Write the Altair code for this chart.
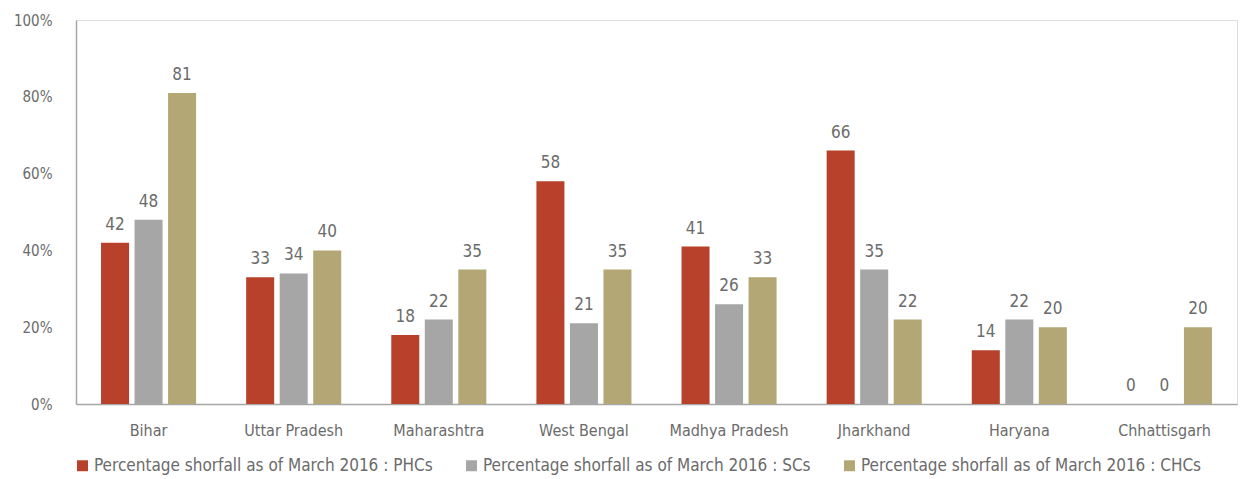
import altair as alt
import pandas as pd

states = ["Bihar", "Uttar Pradesh", "Maharashtra", "West Bengal",
          "Madhya Pradesh", "Jharkhand", "Haryana", "Chhattisgarh"]
series = ["Percentage shorfall as of March 2016 : PHCs",
          "Percentage shorfall as of March 2016 : SCs",
          "Percentage shorfall as of March 2016 : CHCs"]
phcs = [42, 33, 18, 58, 41, 66, 14, 0]
scs = [48, 34, 22, 21, 26, 35, 22, 0]
chcs = [81, 40, 35, 35, 33, 22, 20, 20]
colors = ["#B7412A", "#A6A6A6", "#B3A775"]

rows = []
for i, s in enumerate(states):
    for j, (name, vals) in enumerate(zip(series, [phcs, scs, chcs])):
        rows.append({"state": s, "series": name, "order": j, "value": vals[i]})
df = pd.DataFrame(rows)

FONT = "DejaVu Sans Condensed"
GRAY = "#6B6B6B"

x = alt.X("state:N", sort=states, title=None,
          scale=alt.Scale(paddingInner=0.345, paddingOuter=0.1725),
          axis=alt.Axis(labelAngle=0, ticks=False, labelPadding=18,
                        labelFontSize=16, labelColor=GRAY, labelFont=FONT,
                        domainColor="#A6A6A6", domainWidth=1.5))
xo = alt.XOffset("series:N", sort=series,
                 scale=alt.Scale(paddingInner=0.164))
y = alt.Y("value:Q", title=None,
          scale=alt.Scale(domain=[0, 100]),
          axis=alt.Axis(values=[0, 20, 40, 60, 80, 100], grid=False, ticks=False,
                        labelExpr="datum.value + '%'", labelPadding=24,
                        labelFontSize=15, labelColor=GRAY, labelFont=FONT,
                        domainColor="#A6A6A6", domainWidth=1.5))
color = alt.Color("series:N", sort=series,
                  scale=alt.Scale(domain=series, range=colors),
                  legend=alt.Legend(title=None, orient="none", direction="horizontal",
                                    legendX=-2, legendY=437,
                                    symbolType="square", symbolSize=120,
                                    symbolStrokeWidth=0,
                                    labelFontSize=17, labelColor=GRAY, labelFont=FONT,
                                    labelLimit=500, columnPadding=30, labelOffset=3))

bars = alt.Chart(df).mark_bar().encode(x=x, xOffset=xo, y=y, color=color)
labels = alt.Chart(df).mark_text(baseline="alphabetic", dy=-13, fontSize=17,
                                 font=FONT, color=GRAY).encode(
    x=x, xOffset=xo, y=y, text=alt.Text("value:Q"))

chart = (bars + labels).properties(
    width=1161, height=384,
    autosize=alt.AutoSizeParams(type="none"),
    padding={"left": 68, "top": 12, "right": 5, "bottom": 72},
).configure_view(stroke=None).configure(background="white")

chart.save("out.html", embed_options={"renderer": "svg", "actions": False})
